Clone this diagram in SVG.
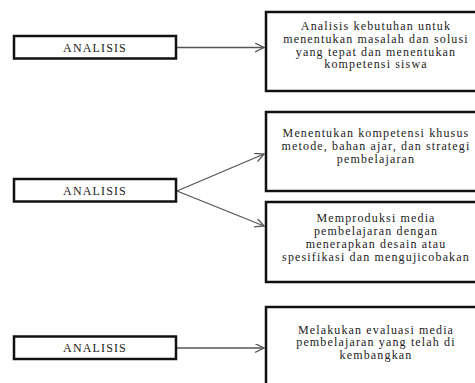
<svg xmlns="http://www.w3.org/2000/svg" width="475" height="383" viewBox="0 0 475 383">
<style>
.box{fill:#fff;stroke:#111;stroke-width:2.5}
.t{font-family:"Liberation Serif","Times New Roman",serif;font-size:12px;letter-spacing:1.15px;fill:#222;text-anchor:middle}
.c{stroke:#555;stroke-width:1.3;fill:none}
</style>
<defs>
<marker id="ah" markerUnits="userSpaceOnUse" markerWidth="12" markerHeight="12" refX="9" refY="4.5" orient="auto">
<path d="M0,0 L9,4.5 L0,9" fill="none" stroke="#555" stroke-width="1.3"/>
</marker>
</defs>
<rect width="475" height="383" fill="#fff"/>
<g id="connectors">
<line class="c" x1="177" y1="47.5" x2="264" y2="47.5" marker-end="url(#ah)"/>
<line class="c" x1="177" y1="191" x2="264" y2="154" marker-end="url(#ah)"/>
<line class="c" x1="177" y1="191" x2="264" y2="226" marker-end="url(#ah)"/>
<line class="c" x1="177" y1="348" x2="264" y2="348" marker-end="url(#ah)"/>
</g>
<g id="analisis1">
<rect class="box" x="14" y="36" width="162" height="22.5"/>
<text class="t" x="95" y="51.5">ANALISIS</text>
</g>
<g id="analisis2">
<rect class="box" x="14" y="179" width="162" height="22.5"/>
<text class="t" x="95" y="194.5">ANALISIS</text>
</g>
<g id="analisis3">
<rect class="box" x="14" y="336.5" width="162" height="22.5"/>
<text class="t" x="95" y="352">ANALISIS</text>
</g>
<g id="box1">
<rect class="box" x="266" y="12" width="220" height="79"/>
<text class="t" x="376" y="30">Analisis kebutuhan untuk</text>
<text class="t" x="376" y="43">menentukan masalah dan solusi</text>
<text class="t" x="376" y="55.5">yang tepat dan menentukan</text>
<text class="t" x="376" y="68">kompetensi siswa</text>
</g>
<g id="box2">
<rect class="box" x="266" y="112" width="220" height="79"/>
<text class="t" x="376" y="137">Menentukan kompetensi khusus</text>
<text class="t" x="376" y="150">metode, bahan ajar, dan strategi</text>
<text class="t" x="376" y="163">pembelajaran</text>
</g>
<g id="box3">
<rect class="box" x="266" y="202" width="220" height="80"/>
<text class="t" x="376" y="222">Memproduksi media</text>
<text class="t" x="376" y="235">pembelajaran dengan</text>
<text class="t" x="376" y="248">menerapkan desain atau</text>
<text class="t" x="376" y="261">spesifikasi dan mengujicobakan</text>
</g>
<g id="box4">
<rect class="box" x="266" y="307" width="220" height="90"/>
<text class="t" x="376" y="333.5">Melakukan evaluasi media</text>
<text class="t" x="376" y="346">pembelajaran yang telah di</text>
<text class="t" x="376" y="358.5">kembangkan</text>
</g>
</svg>
